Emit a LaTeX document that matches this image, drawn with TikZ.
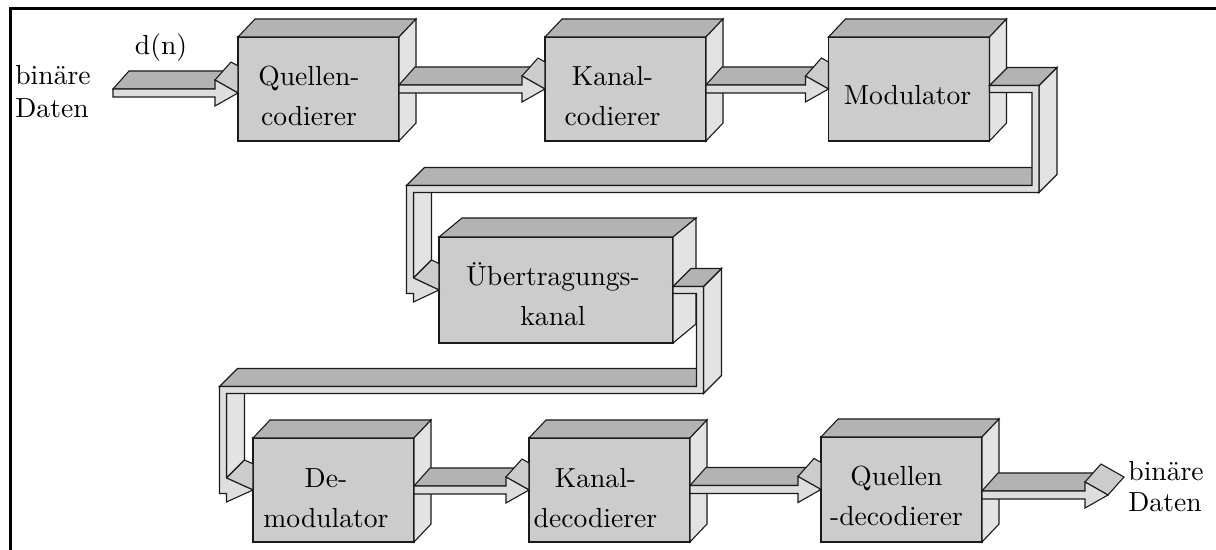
\documentclass[tikz,border=0pt]{standalone}
\usetikzlibrary{calc}

\definecolor{blockfill}{HTML}{CCCCCC}
\definecolor{blocktop}{HTML}{B3B3B3}
\definecolor{blockside}{HTML}{E3E3E3}
\definecolor{bandfill}{HTML}{DEDEDE}
\definecolor{outline}{HTML}{1A1A1A}

% Latin Modern at its 10pt design size, enlarged
\font\lmlabel="[lmroman10-regular]:mapping=tex-text" at 13.8pt
\newcommand\blocklabelfont{\lmlabel\baselineskip=20pt\relax}
\newcommand\sidelabelfont{\lmlabel\baselineskip=16.5pt\relax}
\newcommand\sinklabelfont{\lmlabel\baselineskip=15.5pt\relax}

\tikzset{
  face/.style={draw=outline, line width=0.55pt, line join=miter},
  frontface/.style={face, fill=blockfill},
  topface/.style={face, fill=blocktop},
  sideface/.style={face, fill=blockside},
  headface/.style={face, fill=blockfill},
  bandface/.style={face, fill=bandfill},
  block/.style={frontface, rectangle, inner sep=0pt, outer sep=0pt},
  lbl/.style={inner sep=0pt, align=center, font=\blocklabelfont},
  sidelbl/.style={inner sep=0pt, align=left, anchor=west, font=\sidelabelfont},
}

% 3-D block: named front face, then its top and right faces
% #1 depth offset, #2 name, #3 centre, #4 width (px), #5 height (px)
\newcommand\sysblock[5][8.5pt,9pt]{%
  \node[block, minimum width=#4*0.5pt, minimum height=#5*0.5pt] (#2) at (#3) {};
  \filldraw[topface] (#2.north west) -- ++(#1) -- ($(#2.north east)+(#1)$) -- (#2.north east) -- cycle;
  \filldraw[sideface] (#2.north east) -- ++(#1) -- ($(#2.south east)+(#1)$) -- (#2.south east) -- cycle;
}

% front face of a straight band arrow between (fa-s) and (fa-t)
\newcommand\arrowfront{%
  \filldraw[bandface] ($(fa-s)+(0pt,2pt)$) -- ($(fa-t)+(-11.5pt,2pt)$) -- ($(fa-t)+(-11.5pt,6.5pt)$) -- (fa-t)
    -- ($(fa-t)+(-11.5pt,-6.5pt)$) -- ($(fa-t)+(-11.5pt,-2pt)$) -- ($(fa-s)+(0pt,-2pt)$) -- cycle;
}

% straight band arrow ending on the front of a block
\newcommand\flatarrow[2]{%
  \coordinate (fa-s) at (#2 -| #1);
  \coordinate (fa-t) at (#2);
  \filldraw[topface] ($(fa-s)+(0pt,2pt)$) -- ++(8pt,9pt) -- ($(fa-t)+(-3.5pt,11pt)$) -- ($(fa-t)+(-11.5pt,2pt)$) -- cycle;
  \filldraw[headface] ($(fa-t)+(-11.5pt,6.5pt)$) -- (fa-t) -- ($(fa-t)+(0pt,13.52pt)$) -- ($(fa-t)+(-3.5pt,15.5pt)$) -- cycle;
  \arrowfront
}

% straight band arrow with a free head
\newcommand\openarrow[2]{%
  \coordinate (fa-s) at (#2 -| #1);
  \coordinate (fa-t) at (#2);
  \filldraw[topface] ($(fa-s)+(0pt,2pt)$) -- ++(8pt,9pt) -- ($(fa-t)+(-3.5pt,11pt)$) -- ($(fa-t)+(-11.5pt,2pt)$) -- cycle;
  \filldraw[headface] ($(fa-t)+(-11.5pt,6.5pt)$) -- (fa-t) -- ++(8pt,9pt) -- ($(fa-t)+(-3.5pt,15.5pt)$) -- cycle;
  \arrowfront
}

% band that runs right, down, back left, down and into the next block
% #1 start, #2 lower right bend, #3 lower left bend, #4 tip
\newcommand\zigpipe[4]{%
  \filldraw[sideface] let \p2=(#2),\p3=(#3),\p4=(#4) in
    (\x3+1.75pt,\y2-1.75pt) -- (\x3+1.75pt,\y4+6pt) -- ++(9pt,9pt) -- (\x3+10.75pt,\y2+7.25pt) -- cycle;
  \filldraw[topface] let \p2=(#2),\p3=(#3) in
    (\x3-1.75pt,\y2+1.75pt) -- (\x2-1.75pt,\y2+1.75pt) -- ++(9pt,9pt) -- (\x3+7.25pt,\y2+10.75pt) -- cycle;
  \filldraw[sideface] let \p1=(#1),\p2=(#2) in
    (\x2+1.75pt,\y1+1.75pt) -- (\x2+1.75pt,\y2-1.75pt) -- ++(9pt,9pt) -- (\x2+10.75pt,\y1+10.75pt) -- cycle;
  \filldraw[topface] let \p1=(#1),\p2=(#2) in
    (\x1,\y1+1.75pt) -- (\x2+1.75pt,\y1+1.75pt) -- ++(9pt,9pt) -- (\x1+9pt,\y1+10.75pt) -- cycle;
  \filldraw[headface] let \p3=(#3),\p4=(#4) in
    (\x3+1.75pt,\y4+6pt) -- (\x4,\y4) -- (\x4,{\y4+9pt+54/((\x4-\x3)-1.75pt)}) -- (\x3+10.75pt,\y4+15pt) -- cycle;
  \filldraw[bandface] let \p1=(#1),\p2=(#2),\p3=(#3),\p4=(#4) in
    (\x1,\y1+1.75pt) -- (\x2+1.75pt,\y1+1.75pt) -- (\x2+1.75pt,\y2-1.75pt) -- (\x3+1.75pt,\y2-1.75pt)
    -- (\x3+1.75pt,\y4+6pt) -- (\x4,\y4) -- (\x3+1.75pt,\y4-6pt) -- (\x3+1.75pt,\y4-1.75pt)
    -- (\x3-1.75pt,\y4-1.75pt) -- (\x3-1.75pt,\y2+1.75pt) -- (\x2-1.75pt,\y2+1.75pt)
    -- (\x2-1.75pt,\y1-1.75pt) -- (\x1,\y1-1.75pt) -- cycle;
}

\begin{document}
\begin{tikzpicture}[x=0.5pt,y=-0.5pt]
\useasboundingbox (0,0) rectangle (1216,550);
\draw[line width=1.5pt] (10,550) -- (10,8.5) -- (1216,8.5);

% transmitter
\sysblock{b1}{318.5,89}{161}{104}
\sysblock{b2}{625.5,89}{161}{104}
\sysblock{b3}{909,89}{161}{104}
% channel
\sysblock[11.5pt,9.5pt]{b4}{556,290}{234}{106}
% receiver
\sysblock{b5}{333.5,490}{161}{104}
\sysblock{b6}{609.5,490}{161}{104}
\sysblock{b7}{901.5,489.5}{161}{105}

\node[lbl] (t1) at ($(b1)+(-9.5,6.5)$) {Quellen-\\codierer};
\node[lbl] (t2) at ($(b2)+(-13,7.5)$) {Kanal-\\codierer};
\node[lbl] (t3) at ($(b3)+(-1.5,6.5)$) {Modulator};
\node[lbl] (t4) at ($(b4)+(-3,4.5)$) {Übertragungs-\\kanal};
\node[lbl] (t5) at ($(b5)+(-7.5,8)$) {De-\\modulator};
\node[lbl] (t6) at ($(b6)+(-14,8)$) {Kanal-\\decodierer};
\node[lbl] (t7) at ($(b7)+(-5,6)$) {Quellen\\-decodierer};

\node[sidelbl] (src) at (15,92) {binäre\\Daten};
\node[lbl] (dn) at (161,48) {d(n)};
\node[sidelbl, font=\sinklabelfont] (sink) at (1128,487) {binäre\\Daten};

% data input and output ends
\coordinate (din) at (113,93);
\coordinate (a1end) at ($(b1.west)+(0,4)$);
\coordinate (dout) at (1108,495);

\flatarrow{din}{a1end}
\flatarrow{b1.east}{b2.west}
\flatarrow{b2.east}{b3.west}

\coordinate (m1) at (1035.5,189);
\coordinate (m2) at (410,189);
\zigpipe{b3.east}{m1}{m2}{b4.west}

\coordinate (k1) at (700,390);
\coordinate (k2) at (223,390);
\zigpipe{b4.east}{k1}{k2}{b5.west}

\flatarrow{b5.east}{b6.west}
\flatarrow{b6.east}{b7.west}
\openarrow{b7.east}{dout}
\end{tikzpicture}
\end{document}
